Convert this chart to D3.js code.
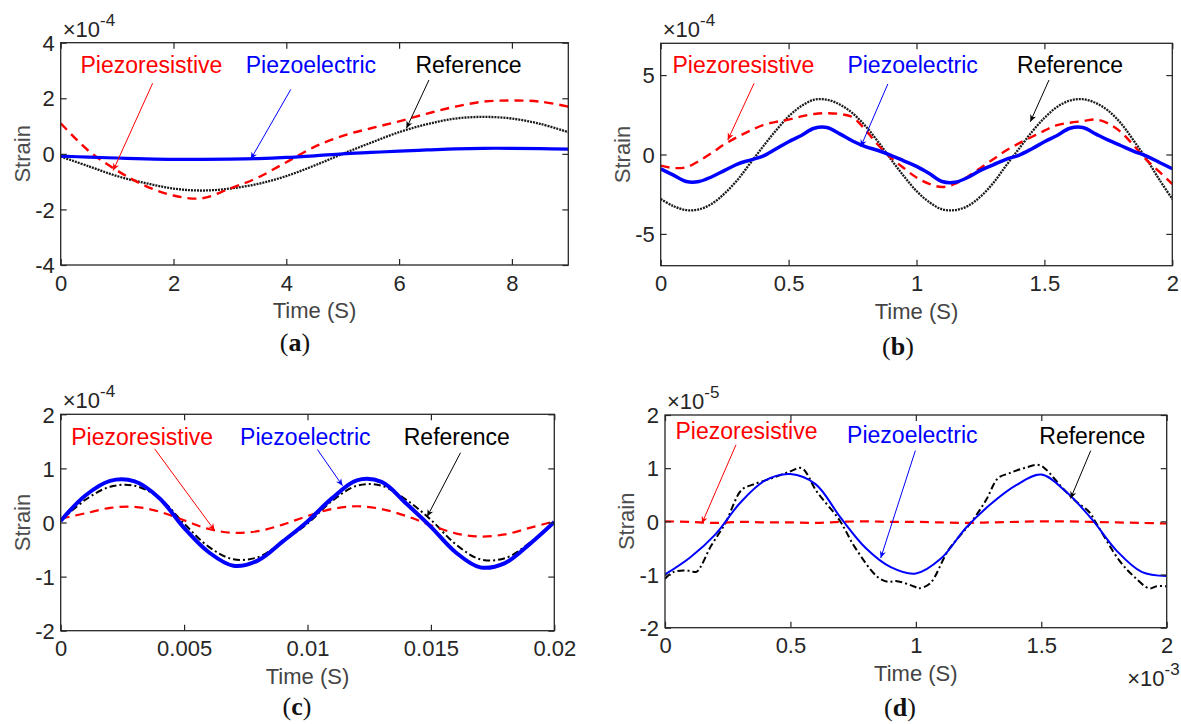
<!DOCTYPE html>
<html>
<head>
<meta charset="utf-8">
<script src="https://cdn.jsdelivr.net/npm/d3@7"></script>
<style>
  body { margin: 0; background: #fff; }
  svg { display: block; }
</style>
</head>
<body>
<div id="chart"></div>
<script>
// ---- data (strain values in units of the axis exponent) ----
var aTime = [0,0.5,1,1.5,2,2.5,3,3.5,4,4.5,5,5.5,6,6.5,7,7.5,8,8.5,9];
var aPiezoresistive = [1.1,0.1,-0.6,-1.15,-1.5,-1.6,-1.25,-0.85,-0.3,0.25,0.65,0.92,1.17,1.45,1.7,1.88,1.92,1.88,1.7];
var aPiezoelectric = [-0.08,-0.12,-0.15,-0.18,-0.2,-0.2,-0.19,-0.17,-0.13,-0.07,0.0,0.05,0.1,0.14,0.18,0.2,0.2,0.19,0.17];
var aReference = [-0.1,-0.45,-0.8,-1.05,-1.25,-1.32,-1.25,-1.08,-0.8,-0.42,0.0,0.4,0.78,1.07,1.27,1.33,1.27,1.08,0.78];

var bTime = [0,0.05,0.1,0.15,0.2,0.25,0.3,0.35,0.4,0.45,0.5,0.55,0.6,0.65,0.7,0.75,0.8,0.85,0.9,0.95,1,
             1.05,1.1,1.15,1.2,1.25,1.3,1.35,1.4,1.45,1.5,1.55,1.6,1.65,1.7,1.75,1.8,1.85,1.9,1.95,2];
var bPiezoresistive = [-0.7,-0.85,-0.8,-0.4,0.1,0.65,1.1,1.5,1.85,2.05,2.2,2.4,2.55,2.6,2.55,2.35,1.55,0.6,-0.2,-0.85,-1.45,
             -1.85,-2.05,-1.85,-1.4,-0.85,-0.3,0.25,0.7,1.1,1.5,1.85,2.0,2.1,2.2,1.95,1.4,0.55,-0.35,-1.1,-1.86];
var bPiezoelectric = [-0.9,-1.3,-1.7,-1.7,-1.4,-1.0,-0.6,-0.35,-0.1,0.35,0.8,1.2,1.65,1.7,1.3,0.85,0.5,0.25,-0.05,-0.4,-0.75,
             -1.2,-1.7,-1.75,-1.45,-1.0,-0.65,-0.3,-0.05,0.35,0.8,1.2,1.65,1.7,1.3,0.9,0.55,0.2,-0.1,-0.5,-0.9];
var bReference = [-2.8,-3.25,-3.5,-3.45,-3.1,-2.45,-1.6,-0.55,0.5,1.5,2.4,3.05,3.45,3.45,3.15,2.6,1.8,0.8,-0.3,-1.35,-2.3,
             -3.0,-3.45,-3.5,-3.25,-2.65,-1.8,-0.7,0.35,1.4,2.3,3.0,3.4,3.48,3.25,2.75,1.95,0.85,-0.3,-1.6,-2.8];

var cTime = [0,0.001,0.002,0.003,0.004,0.005,0.006,0.007,0.008,0.009,0.01,
             0.011,0.012,0.013,0.014,0.015,0.016,0.017,0.018,0.019,0.02];
var cPiezoresistive = [0.07,0.17,0.27,0.29,0.2,0.04,-0.12,-0.19,-0.16,-0.04,0.12,0.25,0.3,0.25,0.12,-0.05,-0.2,-0.26,-0.22,-0.1,0.02];
var cPiezoelectric = [0.03,0.5,0.77,0.76,0.45,-0.1,-0.55,-0.8,-0.7,-0.35,0.02,0.45,0.78,0.75,0.35,-0.08,-0.55,-0.83,-0.75,-0.4,0.01];
var cReference = [0.03,0.42,0.66,0.68,0.45,-0.02,-0.45,-0.68,-0.64,-0.35,-0.02,0.4,0.68,0.68,0.42,0.05,-0.4,-0.68,-0.66,-0.38,0.0];

var dTime = [0,0.1,0.2,0.3,0.4,0.5,0.6,0.7,0.8,0.9,1,1.1,1.2,1.3,1.4,1.5,1.6,1.7,1.8,1.9,2];
var dPiezoresistive = [0.0,-0.01,-0.03,-0.01,-0.02,-0.02,-0.03,-0.01,0.0,-0.01,-0.01,-0.02,-0.03,-0.02,-0.01,0.0,0.0,-0.01,-0.02,-0.03,-0.04];
var dPiezoelectric = [-1.0,-0.68,-0.25,0.35,0.77,0.89,0.7,0.07,-0.5,-0.86,-0.98,-0.7,-0.12,0.33,0.68,0.88,0.55,0.05,-0.55,-0.95,-1.03];
var dRefTime = [0,0.035,0.1,0.125,0.185,0.24,0.305,0.35,0.425,0.5,0.545,0.605,0.696,0.756,0.846,0.89,0.92,0.996,1.01,1.056,
                1.13,1.22,1.28,1.327,1.37,1.43,1.49,1.52,1.58,1.64,1.69,1.72,1.81,1.87,1.93,1.96,2];
var dReference = [-1.08,-0.95,-0.93,-0.95,-0.45,-0.04,0.59,0.69,0.81,0.94,1.0,0.56,0.02,-0.48,-1.04,-1.14,-1.12,-1.23,-1.26,-1.17,
                -0.54,-0.02,0.4,0.81,0.9,1.0,1.06,0.97,0.65,0.37,0.18,-0.04,-0.73,-1.04,-1.26,-1.22,-1.22];

// ---- tick labels ----
var aXTicks = [0,2,4,6,8], aYTicks = [-4,-2,0,2,4];
var bXTicks = [0,0.5,1,1.5,2], bYTicks = [-5,0,5];
var cXTicks = [0,0.005,0.01,0.015,0.02], cYTicks = [-2,-1,0,1,2];
var dXTicks = [0,0.5,1,1.5,2], dYTicks = [-2,-1,0,1,2];

var RED = "#ff0000", BLUE = "#0000ff", BLACK = "#000000";
var names = ["Piezoresistive", "Piezoelectric", "Reference"];

var width = 1181, height = 724;
var svg = d3.select("#chart").append("svg")
  .attr("width", width)
  .attr("height", height);

var defs = svg.append("defs");
[["red", RED], ["blue", BLUE], ["black", BLACK]].forEach(function(c) {
  defs.append("marker")
    .attr("id", "head-" + c[0])
    .attr("viewBox", "0 0 10 10")
    .attr("refX", 10).attr("refY", 5)
    .attr("markerWidth", 8).attr("markerHeight", 7)
    .attr("markerUnits", "userSpaceOnUse")
    .attr("orient", "auto")
    .append("path")
    .attr("d", "M0,0.5 L10,5 L0,9.5 L3,5 Z")
    .attr("fill", c[1]);
});

var panels = [
  { id: "a", box: [60.7, 42.7, 568.3, 265], xd: [0, 9], yd: [-4, 4], xt: aXTicks, yt: aYTicks, exp: "-4",
    tag: [295, 351],
    series: [
      { t: aTime, v: aReference, color: "#1a1a1a", w: 2.3, dash: "2,1" },
      { t: aTime, v: aPiezoresistive, color: RED, w: 2.4, dash: "9,6" },
      { t: aTime, v: aPiezoelectric, color: BLUE, w: 3.2, dash: null }
    ],
    notes: [
      { tx: 0.35, ty: 2.9, from: [1.63, 2.54], to: [0.93, -0.6] },
      { tx: 3.28, ty: 2.9, from: [4.08, 2.32], to: [3.37, -0.19] },
      { tx: 6.29, ty: 2.9, from: [6.53, 2.66], to: [6.13, 0.92] }
    ] },
  { id: "b", box: [660.7, 43.3, 1172.3, 265.7], xd: [0, 2], yd: [-7, 7], xt: bXTicks, yt: bYTicks, exp: "-4",
    tag: [898, 355],
    series: [
      { t: bTime, v: bReference, color: "#1a1a1a", w: 2.3, dash: "2,1" },
      { t: bTime, v: bPiezoresistive, color: RED, w: 2.4, dash: "9,6" },
      { t: bTime, v: bPiezoelectric, color: BLUE, w: 3.5, dash: null }
    ],
    notes: [
      { tx: 0.046, ty: 5.1, from: [0.365, 4.48], to: [0.262, 0.91] },
      { tx: 0.73, ty: 5.1, from: [0.888, 4.44], to: [0.782, 0.49] },
      { tx: 1.393, ty: 5.1, from: [1.518, 4.69], to: [1.445, 2.06] }
    ] },
  { id: "c", box: [60.7, 414.3, 554.3, 630.7], xd: [0, 0.02], yd: [-2, 2], xt: cXTicks, yt: cYTicks, exp: "-4",
    tag: [297, 715],
    series: [
      { t: cTime, v: cReference, color: BLACK, w: 2, dash: "7,3,2,3" },
      { t: cTime, v: cPiezoresistive, color: RED, w: 2.2, dash: "9,6" },
      { t: cTime, v: cPiezoelectric, color: BLUE, w: 4, dash: null }
    ],
    notes: [
      { tx: 0.000425, ty: 1.44, from: [0.00381, 1.36], to: [0.00624, -0.15] },
      { tx: 0.00727, ty: 1.44, from: [0.0104, 1.35], to: [0.01142, 0.68] },
      { tx: 0.0139, ty: 1.44, from: [0.0162, 1.29], to: [0.01485, 0.11] }
    ] },
  { id: "d", box: [665, 415, 1166.7, 627.7], xd: [0, 2], yd: [-2, 2], xt: dXTicks, yt: dYTicks, exp: "-5",
    tag: [900, 716], xexp: "-3",
    series: [
      { t: dRefTime, v: dReference, color: BLACK, w: 2, dash: "7,3,2,3" },
      { t: dTime, v: dPiezoresistive, color: RED, w: 2.2, dash: "9,6" },
      { t: dTime, v: dPiezoelectric, color: BLUE, w: 2, dash: null }
    ],
    notes: [
      { tx: 0.042, ty: 1.55, from: [0.283, 1.44], to: [0.147, -0.04] },
      { tx: 0.726, ty: 1.48, from: [0.998, 1.33], to: [0.86, -0.69] },
      { tx: 1.492, ty: 1.45, from: [1.697, 1.33], to: [1.617, 0.43] }
    ] }
];

var noteColors = [RED, BLUE, BLACK];
var headIds = ["head-red", "head-blue", "head-black"];
var fmt = function(d) { return String(d); };
var SANS = "'Liberation Sans', Arial, sans-serif";

function exponent(g, xPos, yPos, anchor, power) {
  var t = g.append("text")
    .attr("x", xPos).attr("y", yPos)
    .attr("text-anchor", anchor)
    .attr("fill", "#262626")
    .style("font-family", SANS);
  t.append("tspan").style("font-size", "22px").text("\u00d710");
  t.append("tspan").attr("dy", -11).style("font-size", "17px").text(power);
}

panels.forEach(function(p) {
  var x0 = p.box[0], y0 = p.box[1], x1 = p.box[2], y1 = p.box[3];
  var x = d3.scaleLinear().domain(p.xd).range([x0, x1]);
  var y = d3.scaleLinear().domain(p.yd).range([y1, y0]);
  var g = svg.append("g").attr("class", "panel-" + p.id);

  defs.append("clipPath").attr("id", "clip-" + p.id)
    .append("rect").attr("x", x0).attr("y", y0).attr("width", x1 - x0).attr("height", y1 - y0);

  // lines
  var line = d3.line()
    .x(function(d) { return x(d[0]); })
    .y(function(d) { return y(d[1]); })
    .curve(d3.curveCatmullRom);
  var lines = g.append("g").attr("clip-path", "url(#clip-" + p.id + ")");
  p.series.forEach(function(s) {
    lines.append("path")
      .datum(d3.zip(s.t, s.v))
      .attr("d", line)
      .attr("fill", "none")
      .attr("stroke", s.color)
      .attr("stroke-width", s.w)
      .attr("stroke-dasharray", s.dash)
      .attr("stroke-linejoin", "round");
  });

  // axes, ticks inward on all four sides
  var axB = g.append("g").attr("transform", "translate(0," + y1 + ")")
    .call(d3.axisBottom(x).tickValues(p.xt).tickFormat(fmt).tickSizeInner(-6).tickSizeOuter(0).tickPadding(10));
  var axL = g.append("g").attr("transform", "translate(" + x0 + ",0)")
    .call(d3.axisLeft(y).tickValues(p.yt).tickFormat(fmt).tickSizeInner(-6).tickSizeOuter(0).tickPadding(6));
  var axT = g.append("g").attr("transform", "translate(0," + y0 + ")")
    .call(d3.axisTop(x).tickValues(p.xt).tickFormat("").tickSizeInner(-6).tickSizeOuter(0));
  var axR = g.append("g").attr("transform", "translate(" + x1 + ",0)")
    .call(d3.axisRight(y).tickValues(p.yt).tickFormat("").tickSizeInner(-6).tickSizeOuter(0));
  [axB, axL, axT, axR].forEach(function(a) {
    a.select(".domain").remove();
    a.selectAll("line").attr("stroke", "#262626").attr("stroke-width", 1.2);
    a.selectAll("text")
      .attr("fill", "#262626")
      .style("font-family", SANS)
      .style("font-size", "22px");
  });
  axB.selectAll("text").attr("dy", "0.71em");
  axL.selectAll("text").attr("dy", "0.35em");

  g.append("rect")
    .attr("x", x0).attr("y", y0)
    .attr("width", x1 - x0).attr("height", y1 - y0)
    .attr("fill", "none")
    .attr("stroke", "#262626")
    .attr("stroke-width", 1.3);

  // exponents
  exponent(g, x0 + 2, y0 - 6, "start", p.exp);
  if (p.xexp) exponent(g, x1 + 13, y1 + 58, "end", p.xexp);

  // axis titles
  g.append("text")
    .attr("x", (x0 + x1) / 2).attr("y", y1 + 53)
    .attr("text-anchor", "middle")
    .attr("fill", "#444")
    .style("font-family", SANS)
    .style("font-size", "22px")
    .text("Time (S)");
  g.append("text")
    .attr("transform", "translate(" + (x0 - 31) + "," + ((y0 + y1) / 2) + ") rotate(-90)")
    .attr("text-anchor", "middle")
    .attr("fill", "#4d4d4d")
    .style("font-family", SANS)
    .style("font-size", "22px")
    .text("Strain");

  // labels and arrows
  p.notes.forEach(function(n, i) {
    g.append("text")
      .attr("x", x(n.tx)).attr("y", y(n.ty))
      .attr("fill", noteColors[i])
      .style("font-family", SANS)
      .style("font-size", "23px")
      .text(names[i]);
    g.append("line")
      .attr("x1", x(n.from[0])).attr("y1", y(n.from[1]))
      .attr("x2", x(n.to[0])).attr("y2", y(n.to[1]))
      .attr("stroke", noteColors[i])
      .attr("stroke-width", 1)
      .attr("marker-end", "url(#" + headIds[i] + ")");
  });

  // panel tag
  var tg = g.append("text")
    .attr("x", p.tag[0]).attr("y", p.tag[1])
    .attr("text-anchor", "middle")
    .attr("fill", "#111")
    .style("font-family", "'Liberation Serif', 'Times New Roman', serif")
    .style("font-size", "26px");
  tg.append("tspan").text("(");
  tg.append("tspan").style("font-weight", "bold").text(p.id);
  tg.append("tspan").text(")");
});
</script>
</body>
</html>
